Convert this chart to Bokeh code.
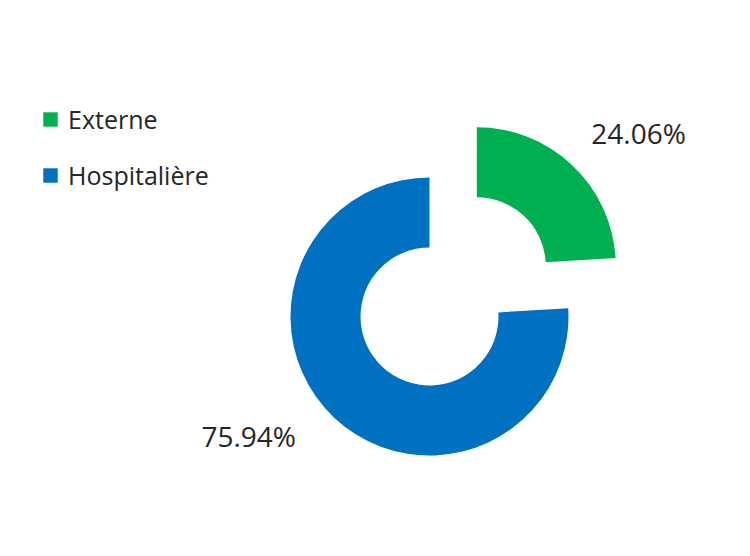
import numpy as np
from bokeh.plotting import figure
from bokeh.models import ColumnDataSource, Range1d, Legend, LegendItem
from bokeh.embed import file_html
from bokeh.resources import INLINE
from bokeh.core.properties import value

# ---- data ----
categories = ["Externe", "Hospitalière"]
percentages = [24.06, 75.94]
labels = ["24.06%", "75.94%"]
colors = ["#00B050", "#0070C0"]

# ---- style ----
W, H = 734, 540
CX, CY = 429, 316          # donut centre in figure pixels (from top-left)
R_OUT, R_IN = 139, 69
explode = [69, 0]
label_r = 195
label_dx = [28, -47]
label_dy = [9, -22]
FONT = "Open Sans"

frac = np.array(percentages) / sum(percentages)
cum = np.concatenate([[0.0], np.cumsum(frac)])
start = np.pi / 2 - 2 * np.pi * cum[:-1]
end = np.pi / 2 - 2 * np.pi * cum[1:]
mid = (start + end) / 2
ex = np.array(explode, dtype=float)
cx = ex * np.cos(mid)
cy = ex * np.sin(mid)

src = ColumnDataSource(dict(
    x=cx, y=cy, start=start, end=end, color=colors, cat=categories,
))
lsrc = ColumnDataSource(dict(
    x=cx + label_r * np.cos(mid), y=cy + label_r * np.sin(mid),
    text=labels, dx=label_dx, dy=label_dy,
))

p = figure(width=W, height=H, output_backend="svg", toolbar_location=None,
           x_range=Range1d(-CX, W - CX), y_range=Range1d(CY - H, CY),
           min_border=0)
p.axis.visible = False
p.grid.visible = False
p.outline_line_color = None
p.background_fill_color = "white"

r = p.annular_wedge(x="x", y="y", inner_radius=R_IN, outer_radius=R_OUT,
                    start_angle="start", end_angle="end", direction="clock",
                    fill_color="color", line_color=None, source=src)

p.text(x="x", y="y", text="text", x_offset="dx", y_offset="dy", source=lsrc,
       text_align="center", text_baseline="middle",
       text_font=value(FONT), text_font_size="28px", text_color="#262626")

legend = Legend(items=[LegendItem(label=categories[i], renderers=[r], index=i)
                       for i in range(len(categories))],
                location=(41, 348), glyph_width=18, glyph_height=18,
                label_text_font=FONT, label_text_font_size="25px",
                label_text_color="#262626", label_standoff=9, spacing=22,
                padding=0, margin=0, border_line_alpha=0,
                background_fill_alpha=0)
p.add_layout(legend)

open("out.html", "w").write(file_html(p, INLINE))
